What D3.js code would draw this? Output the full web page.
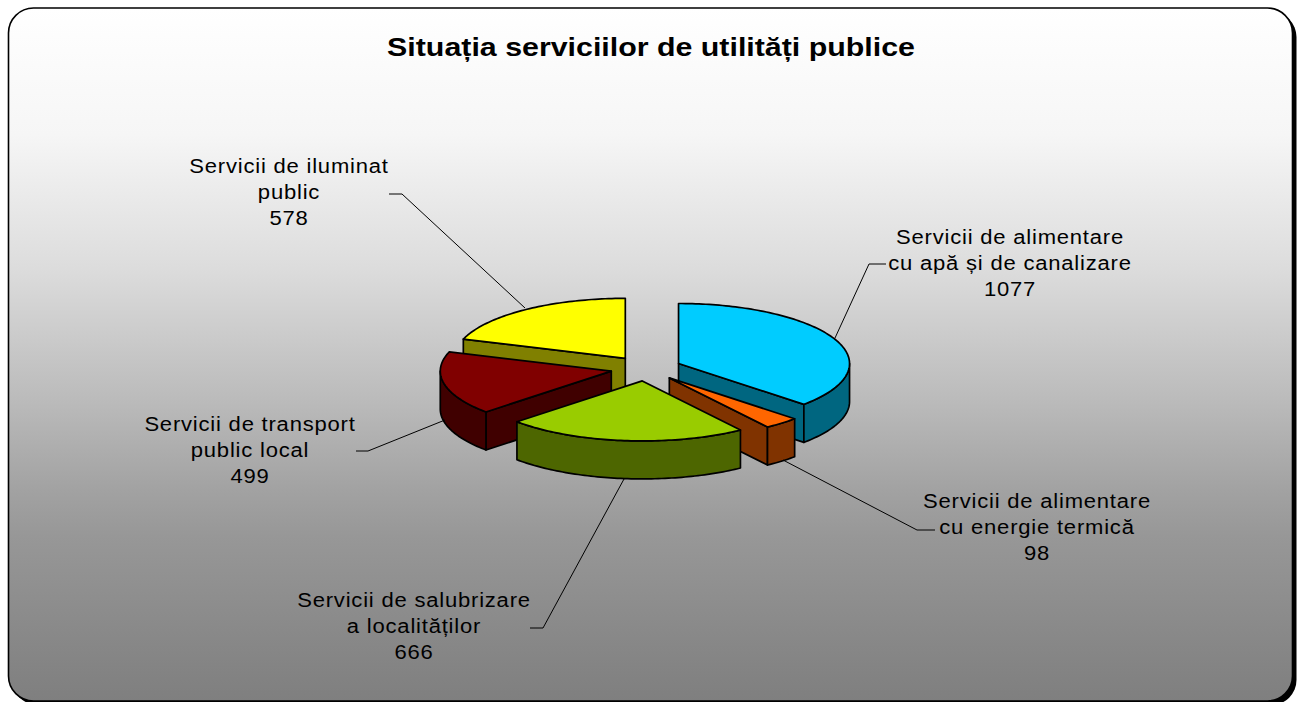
<!DOCTYPE html>
<html><head><meta charset="utf-8">
<style>html,body{margin:0;padding:0;background:#fff;overflow:hidden}svg{display:block}text{font-family:"Liberation Sans",Arial,sans-serif;fill:#000}</style>
<script src="https://cdn.jsdelivr.net/npm/d3@7/dist/d3.min.js"></script>
</head><body><svg id="c" width="1297" height="702"></svg>
<script>
const titleText = "Situația serviciilor de utilități publice";
const categories = [
  ["Servicii de alimentare","cu apă și de canalizare"],
  ["Servicii de alimentare","cu energie termică"],
  ["Servicii de salubrizare","a localităților"],
  ["Servicii de transport","public local"],
  ["Servicii de iluminat","public"]
];
const values = [1077, 98, 666, 499, 578];
const topColors = ["#00CCFF","#FF6600","#99CC00","#800000","#FFFF00"];
const wallColors = ["#006680","#803300","#4D6600","#400000","#808000"];
// label layout: text centre, first baseline, leader polyline
const labelLayout = [
  {x:1010,y:244,leader:[[835,338],[869,264],[886,264]]},
  {x:1037,y:508,leader:[[783,460],[917,530],[935,530]]},
  {x:414,y:607,leader:[[624,479],[543,628],[530,628]]},
  {x:250,y:431,leader:[[445,420],[368,451],[356,451]]},
  {x:289,y:173,leader:[[525,308],[402,194],[389,194]]}
];
// background gradient: page y -> grey
const gradStops = [[8,"#ffffff"],[134,"#f6f6f6"],[269,"#dcdcdc"],[403,"#bababa"],[490,"#a2a2a2"],[537,"#979797"],[672,"#838383"],[701,"#7f7f7f"]];

const cx=646, cy=368.5, rx=171, tilt=0.351, depth=38, explode=35.5;
const svg=d3.select("#c");
const defs=svg.append("defs");
const g=defs.append("linearGradient").attr("id","bg").attr("gradientUnits","userSpaceOnUse")
  .attr("x1",0).attr("y1",8).attr("x2",0).attr("y2",701);
gradStops.forEach(s=>g.append("stop").attr("offset",(s[0]-8)/693).attr("stop-color",s[1]));

svg.append("rect").attr("x",12.5).attr("y",12).attr("width",1284).attr("height",693).attr("rx",25).attr("fill","#000");
svg.append("rect").attr("x",8.5).attr("y",8).attr("width",1284).attr("height",693).attr("rx",25)
   .attr("fill","url(#bg)").attr("stroke","#000").attr("stroke-width",1.6);

svg.append("text").attr("transform","translate(651,56) scale(1.168,1)").attr("text-anchor","middle")
   .attr("font-size",26).attr("font-weight","bold").text(titleText);

const pie=d3.pie().sort(null).startAngle(0).endAngle(2*Math.PI)(values);
const sx=d3.scaleLinear().domain([-1,1]).range([-rx,rx]);
const sy=d3.scaleLinear().domain([-1,1]).range([-rx*tilt,rx*tilt]);
const line=d3.line();
function pt(o,a,r=1,dz=0){return [o[0]+sx(Math.sin(a)*r), o[1]-sy(Math.cos(a)*r)+dz];}
function arcPts(o,a0,a1,dz=0){
  const n=Math.max(2,Math.ceil((a1-a0)/0.02));
  return d3.range(n+1).map(i=>pt(o,a0+(a1-a0)*i/n,1,dz));
}
const order=pie.map((d,i)=>i).sort((a,b)=>{
  const m=i=>(pie[i].startAngle+pie[i].endAngle)/2;
  return Math.cos(m(b))-Math.cos(m(a));
});
const pieG=svg.append("g").attr("stroke","#000").attr("stroke-width",1.7).attr("stroke-linejoin","round");
order.forEach(i=>{
  const d=pie[i], m=(d.startAngle+d.endAngle)/2;
  const o=pt([cx,cy],m,explode/rx);
  const a0=d.startAngle,a1=d.endAngle;
  const radial=a=>{
    const c=o,p=pt(o,a);
    return line([c,p,[p[0],p[1]+depth],[c[0],c[1]+depth]])+"Z";
  };
  if(Math.sin(a0)<-1e-6) pieG.append("path").attr("d",radial(a0)).attr("fill",wallColors[i]);
  if(Math.sin(a1)>1e-6) pieG.append("path").attr("d",radial(a1)).attr("fill",wallColors[i]);
  const v0=Math.max(a0,Math.PI/2), v1=Math.min(a1,3*Math.PI/2);
  if(v1>v0){
    const top=arcPts(o,v0,v1), bot=arcPts(o,v0,v1,depth).reverse();
    pieG.append("path").attr("d",line(top.concat(bot))+"Z").attr("fill",wallColors[i]);
  }
  pieG.append("path").attr("d",line([o].concat(arcPts(o,a0,a1)))+"Z").attr("fill",topColors[i]);
});

const lab=svg.append("g");
const stretch=1.13, lh=26;
categories.forEach((c,i)=>{
  const L=labelLayout[i];
  lab.append("path").attr("d",line(L.leader)).attr("fill","none").attr("stroke","#000").attr("stroke-width",1);
  c.concat([String(values[i])]).forEach((t,j)=>{
    lab.append("text").attr("transform",`translate(${L.x},${L.y+j*lh}) scale(${stretch},1)`)
      .attr("text-anchor","middle").attr("font-size",19.5).attr("letter-spacing",0.7).text(t);
  });
});
</script></body></html>
